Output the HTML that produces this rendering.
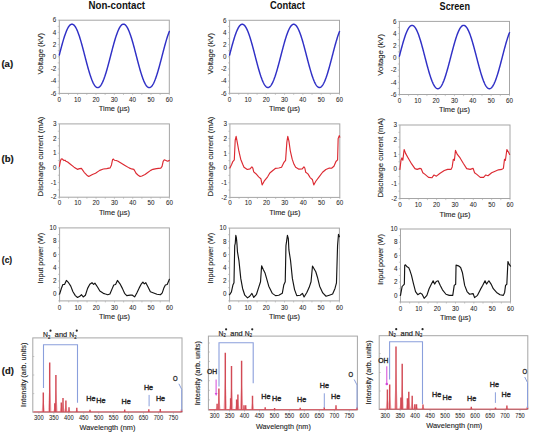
<!DOCTYPE html>
<html><head><meta charset="utf-8"><style>
html,body{margin:0;padding:0;background:#fff;}
body{width:533px;height:434px;overflow:hidden;font-family:"Liberation Sans", sans-serif;}
svg{display:block;}
</style></head><body>
<svg width="533" height="434" viewBox="0 0 533 434" font-family='"Liberation Sans", sans-serif'>
<rect width="533" height="434" fill="#fff"/>
<text x="116.8" y="9.4" font-size="10.2" text-anchor="middle" fill="#111" font-weight="bold" textLength="56.5" lengthAdjust="spacingAndGlyphs" >Non-contact</text>
<text x="287.4" y="9.1" font-size="10.0" text-anchor="middle" fill="#111" font-weight="bold" textLength="34.9" lengthAdjust="spacingAndGlyphs" >Contact</text>
<text x="454.8" y="9.8" font-size="10.0" text-anchor="middle" fill="#111" font-weight="bold" textLength="30.4" lengthAdjust="spacingAndGlyphs" >Screen</text>
<text x="1.4" y="66.9" font-size="9.5" text-anchor="start" fill="#111" stroke="#111" stroke-width="0.15" font-weight="bold" textLength="11.7" lengthAdjust="spacingAndGlyphs" >(a)</text>
<text x="1.6" y="161.85" font-size="9.5" text-anchor="start" fill="#111" stroke="#111" stroke-width="0.15" font-weight="bold" textLength="12.2" lengthAdjust="spacingAndGlyphs" >(b)</text>
<text x="1.8" y="263.4" font-size="9.5" text-anchor="start" fill="#111" stroke="#111" stroke-width="0.15" font-weight="bold" textLength="10.4" lengthAdjust="spacingAndGlyphs" >(c)</text>
<text x="1.8" y="373.6" font-size="9.5" text-anchor="start" fill="#111" stroke="#111" stroke-width="0.15" font-weight="bold" textLength="12" lengthAdjust="spacingAndGlyphs" >(d)</text>
<path d="M57.7 93.4h1.6 M57.7 87.3h1.6 M57.7 81.2h1.6 M57.7 75.1h1.6 M57.7 69h1.6 M57.7 62.9h1.6 M57.7 56.8h1.6 M57.7 50.7h1.6 M57.7 44.6h1.6 M57.7 38.5h1.6 M57.7 32.4h1.6 M57.7 26.3h1.6 M57.7 20.2h1.6 M59.3 93.4v1.6 M68.47 93.4v1.6 M77.63 93.4v1.6 M86.8 93.4v1.6 M95.97 93.4v1.6 M105.13 93.4v1.6 M114.3 93.4v1.6 M123.47 93.4v1.6 M132.63 93.4v1.6 M141.8 93.4v1.6 M150.97 93.4v1.6 M160.13 93.4v1.6 M169.3 93.4v1.6" stroke="#a6a6a6" stroke-width="0.6" fill="none"/>
<rect x="59.3" y="20.2" width="110" height="73.2" fill="none" stroke="#a6a6a6" stroke-width="1"/>
<polyline points="59.3,55 59.67,53.58 60.03,52.17 60.4,50.77 60.77,49.37 61.13,47.99 61.5,46.62 61.87,45.28 62.23,43.95 62.6,42.65 62.97,41.37 63.33,40.13 63.7,38.91 64.07,37.73 64.43,36.59 64.8,35.48 65.17,34.42 65.53,33.39 65.9,32.42 66.27,31.49 66.63,30.6 67,29.77 67.37,28.99 67.73,28.27 68.1,27.6 68.47,26.98 68.83,26.43 69.2,25.93 69.57,25.5 69.93,25.12 70.3,24.81 70.67,24.55 71.03,24.36 71.4,24.24 71.77,24.17 72.13,24.17 72.5,24.24 72.87,24.36 73.23,24.55 73.6,24.81 73.97,25.12 74.33,25.5 74.7,25.93 75.07,26.43 75.43,26.98 75.8,27.6 76.17,28.27 76.53,28.99 76.9,29.77 77.27,30.6 77.63,31.49 78,32.42 78.37,33.39 78.73,34.42 79.1,35.48 79.47,36.59 79.83,37.73 80.2,38.91 80.57,40.13 80.93,41.37 81.3,42.65 81.67,43.95 82.03,45.28 82.4,46.62 82.77,47.99 83.13,49.37 83.5,50.77 83.87,52.17 84.23,53.58 84.6,55 84.97,56.42 85.33,57.83 85.7,59.25 86.07,60.65 86.43,62.05 86.8,63.44 87.17,64.81 87.53,66.16 87.9,67.49 88.27,68.8 88.63,70.08 89,71.33 89.37,72.56 89.73,73.75 90.1,74.9 90.47,76.02 90.83,77.09 91.2,78.13 91.57,79.11 91.93,80.06 92.3,80.95 92.67,81.79 93.03,82.59 93.4,83.33 93.77,84.01 94.13,84.64 94.5,85.21 94.87,85.72 95.23,86.17 95.6,86.56 95.97,86.89 96.33,87.16 96.7,87.37 97.07,87.51 97.43,87.59 97.8,87.6 98.17,87.56 98.53,87.44 98.9,87.27 99.27,87.03 99.63,86.73 100,86.37 100.37,85.95 100.73,85.47 101.1,84.93 101.47,84.33 101.83,83.67 102.2,82.96 102.57,82.2 102.93,81.38 103.3,80.51 103.67,79.59 104.03,78.63 104.4,77.61 104.77,76.56 105.13,75.46 105.5,74.33 105.87,73.16 106.23,71.95 106.6,70.71 106.97,69.44 107.33,68.15 107.7,66.83 108.07,65.48 108.43,64.12 108.8,62.75 109.17,61.35 109.53,59.95 109.9,58.54 110.27,57.13 110.63,55.71 111,54.29 111.37,52.88 111.73,51.47 112.1,50.07 112.47,48.68 112.83,47.3 113.2,45.95 113.57,44.61 113.93,43.3 114.3,42.01 114.67,40.75 115.03,39.52 115.4,38.32 115.77,37.15 116.13,36.03 116.5,34.94 116.87,33.9 117.23,32.9 117.6,31.94 117.97,31.04 118.33,30.18 118.7,29.38 119.07,28.62 119.43,27.93 119.8,27.28 120.17,26.7 120.53,26.17 120.9,25.71 121.27,25.3 121.63,24.95 122,24.67 122.37,24.45 122.73,24.29 123.1,24.2 123.47,24.16 123.83,24.2 124.2,24.29 124.57,24.45 124.93,24.67 125.3,24.95 125.67,25.3 126.03,25.71 126.4,26.17 126.77,26.7 127.13,27.28 127.5,27.93 127.87,28.62 128.23,29.38 128.6,30.18 128.97,31.04 129.33,31.94 129.7,32.9 130.07,33.9 130.43,34.94 130.8,36.03 131.17,37.15 131.53,38.32 131.9,39.52 132.27,40.75 132.63,42.01 133,43.3 133.37,44.61 133.73,45.95 134.1,47.3 134.47,48.68 134.83,50.07 135.2,51.47 135.57,52.88 135.93,54.29 136.3,55.71 136.67,57.13 137.03,58.54 137.4,59.95 137.77,61.35 138.13,62.75 138.5,64.12 138.87,65.48 139.23,66.83 139.6,68.15 139.97,69.44 140.33,70.71 140.7,71.95 141.07,73.16 141.43,74.33 141.8,75.46 142.17,76.56 142.53,77.61 142.9,78.63 143.27,79.59 143.63,80.51 144,81.38 144.37,82.2 144.73,82.96 145.1,83.67 145.47,84.33 145.83,84.93 146.2,85.47 146.57,85.95 146.93,86.37 147.3,86.73 147.67,87.03 148.03,87.27 148.4,87.44 148.77,87.56 149.13,87.6 149.5,87.59 149.87,87.51 150.23,87.37 150.6,87.16 150.97,86.89 151.33,86.56 151.7,86.17 152.07,85.72 152.43,85.21 152.8,84.64 153.17,84.01 153.53,83.33 153.9,82.59 154.27,81.79 154.63,80.95 155,80.06 155.37,79.11 155.73,78.13 156.1,77.09 156.47,76.02 156.83,74.9 157.2,73.75 157.57,72.56 157.93,71.33 158.3,70.08 158.67,68.8 159.03,67.49 159.4,66.16 159.77,64.81 160.13,63.44 160.5,62.05 160.87,60.65 161.23,59.25 161.6,57.83 161.97,56.42 162.33,55 162.7,53.58 163.07,52.17 163.43,50.77 163.8,49.37 164.17,47.99 164.53,46.62 164.9,45.28 165.27,43.95 165.63,42.65 166,41.37 166.37,40.13 166.73,38.91 167.1,37.73 167.47,36.59 167.83,35.48 168.2,34.42 168.57,33.39 168.93,32.42 169.3,31.49" fill="none" stroke="#3030c6" stroke-width="1.45" stroke-linejoin="round" stroke-linecap="round"/>
<text x="56.3" y="22.4" font-size="6.3" text-anchor="end" fill="#262626" stroke="#262626" stroke-width="0.05" >6</text>
<text x="56.3" y="34.6" font-size="6.3" text-anchor="end" fill="#262626" stroke="#262626" stroke-width="0.05" >4</text>
<text x="56.3" y="46.8" font-size="6.3" text-anchor="end" fill="#262626" stroke="#262626" stroke-width="0.05" >2</text>
<text x="56.3" y="59" font-size="6.3" text-anchor="end" fill="#262626" stroke="#262626" stroke-width="0.05" >0</text>
<text x="56.3" y="71.2" font-size="6.3" text-anchor="end" fill="#262626" stroke="#262626" stroke-width="0.05" >-2</text>
<text x="56.3" y="83.4" font-size="6.3" text-anchor="end" fill="#262626" stroke="#262626" stroke-width="0.05" >-4</text>
<text x="56.3" y="95.6" font-size="6.3" text-anchor="end" fill="#262626" stroke="#262626" stroke-width="0.05" >-6</text>
<text x="59.3" y="101.9" font-size="6.3" text-anchor="middle" fill="#262626" stroke="#262626" stroke-width="0.05" >0</text>
<text x="77.63" y="101.9" font-size="6.3" text-anchor="middle" fill="#262626" stroke="#262626" stroke-width="0.05" >10</text>
<text x="95.97" y="101.9" font-size="6.3" text-anchor="middle" fill="#262626" stroke="#262626" stroke-width="0.05" >20</text>
<text x="114.3" y="101.9" font-size="6.3" text-anchor="middle" fill="#262626" stroke="#262626" stroke-width="0.05" >30</text>
<text x="132.63" y="101.9" font-size="6.3" text-anchor="middle" fill="#262626" stroke="#262626" stroke-width="0.05" >40</text>
<text x="150.97" y="101.9" font-size="6.3" text-anchor="middle" fill="#262626" stroke="#262626" stroke-width="0.05" >50</text>
<text x="169.3" y="101.9" font-size="6.3" text-anchor="middle" fill="#262626" stroke="#262626" stroke-width="0.05" >60</text>
<text x="114.3" y="111.2" font-size="7.4" text-anchor="middle" fill="#262626" stroke="#262626" stroke-width="0.12" textLength="31" lengthAdjust="spacingAndGlyphs" >Time (µs)</text>
<text x="42.9" y="53.7" font-size="7.0" text-anchor="middle" fill="#262626" stroke="#262626" stroke-width="0.12" textLength="41.7" lengthAdjust="spacingAndGlyphs" transform="rotate(-90 42.9 53.7)" >Voltage (kV)</text>
<path d="M228 93.3h1.6 M228 87.22h1.6 M228 81.13h1.6 M228 75.05h1.6 M228 68.97h1.6 M228 62.88h1.6 M228 56.8h1.6 M228 50.72h1.6 M228 44.63h1.6 M228 38.55h1.6 M228 32.47h1.6 M228 26.38h1.6 M228 20.3h1.6 M229.6 93.3v1.6 M238.76 93.3v1.6 M247.92 93.3v1.6 M257.07 93.3v1.6 M266.23 93.3v1.6 M275.39 93.3v1.6 M284.55 93.3v1.6 M293.71 93.3v1.6 M302.87 93.3v1.6 M312.02 93.3v1.6 M321.18 93.3v1.6 M330.34 93.3v1.6 M339.5 93.3v1.6" stroke="#a6a6a6" stroke-width="0.6" fill="none"/>
<rect x="229.6" y="20.3" width="109.9" height="73" fill="none" stroke="#a6a6a6" stroke-width="1"/>
<polyline points="229.6,55 229.97,53.59 230.33,52.18 230.7,50.78 231.07,49.39 231.43,48.01 231.8,46.65 232.16,45.31 232.53,43.99 232.9,42.69 233.26,41.42 233.63,40.17 234,38.96 234.36,37.78 234.73,36.64 235.09,35.54 235.46,34.48 235.83,33.46 236.19,32.48 236.56,31.55 236.93,30.67 237.29,29.85 237.66,29.07 238.03,28.35 238.39,27.68 238.76,27.07 239.12,26.51 239.49,26.02 239.86,25.58 240.22,25.21 240.59,24.89 240.96,24.64 241.32,24.45 241.69,24.33 242.06,24.26 242.42,24.26 242.79,24.33 243.15,24.45 243.52,24.64 243.89,24.89 244.25,25.21 244.62,25.58 244.99,26.02 245.35,26.51 245.72,27.07 246.08,27.68 246.45,28.35 246.82,29.07 247.18,29.85 247.55,30.67 247.92,31.55 248.28,32.48 248.65,33.46 249.02,34.48 249.38,35.54 249.75,36.64 250.11,37.78 250.48,38.96 250.85,40.17 251.21,41.42 251.58,42.69 251.95,43.99 252.31,45.31 252.68,46.65 253.05,48.01 253.41,49.39 253.78,50.78 254.14,52.18 254.51,53.59 254.88,55 255.24,56.42 255.61,57.83 255.98,59.24 256.34,60.64 256.71,62.04 257.07,63.42 257.44,64.78 257.81,66.13 258.17,67.46 258.54,68.76 258.91,70.04 259.27,71.29 259.64,72.51 260.01,73.7 260.37,74.85 260.74,75.96 261.1,77.04 261.47,78.07 261.84,79.05 262.2,79.99 262.57,80.88 262.94,81.73 263.3,82.52 263.67,83.25 264.04,83.94 264.4,84.56 264.77,85.13 265.13,85.64 265.5,86.09 265.87,86.48 266.23,86.81 266.6,87.08 266.97,87.28 267.33,87.42 267.7,87.5 268.06,87.52 268.43,87.47 268.8,87.36 269.16,87.19 269.53,86.95 269.9,86.65 270.26,86.29 270.63,85.87 271,85.39 271.36,84.85 271.73,84.26 272.09,83.6 272.46,82.89 272.83,82.13 273.19,81.31 273.56,80.45 273.93,79.53 274.29,78.57 274.66,77.56 275.03,76.51 275.39,75.41 275.76,74.28 276.12,73.11 276.49,71.91 276.86,70.67 277.22,69.41 277.59,68.12 277.96,66.8 278.32,65.46 278.69,64.1 279.06,62.73 279.42,61.34 279.79,59.94 280.15,58.54 280.52,57.13 280.89,55.71 281.25,54.3 281.62,52.89 281.99,51.48 282.35,50.09 282.72,48.7 283.08,47.33 283.45,45.98 283.82,44.64 284.18,43.33 284.55,42.05 284.92,40.79 285.28,39.56 285.65,38.37 286.02,37.21 286.38,36.09 286.75,35 287.11,33.96 287.48,32.96 287.85,32.01 288.21,31.11 288.58,30.25 288.95,29.45 289.31,28.7 289.68,28.01 290.05,27.36 290.41,26.78 290.78,26.26 291.14,25.79 291.51,25.39 291.88,25.04 292.24,24.76 292.61,24.54 292.98,24.38 293.34,24.29 293.71,24.25 294.07,24.29 294.44,24.38 294.81,24.54 295.17,24.76 295.54,25.04 295.91,25.39 296.27,25.79 296.64,26.26 297.01,26.78 297.37,27.36 297.74,28.01 298.1,28.7 298.47,29.45 298.84,30.25 299.2,31.11 299.57,32.01 299.94,32.96 300.3,33.96 300.67,35 301.03,36.09 301.4,37.21 301.77,38.37 302.13,39.56 302.5,40.79 302.87,42.05 303.23,43.33 303.6,44.64 303.97,45.98 304.33,47.33 304.7,48.7 305.06,50.09 305.43,51.48 305.8,52.89 306.16,54.3 306.53,55.71 306.9,57.13 307.26,58.54 307.63,59.94 308,61.34 308.36,62.73 308.73,64.1 309.09,65.46 309.46,66.8 309.83,68.12 310.19,69.41 310.56,70.67 310.93,71.91 311.29,73.11 311.66,74.28 312.02,75.41 312.39,76.51 312.76,77.56 313.12,78.57 313.49,79.53 313.86,80.45 314.22,81.31 314.59,82.13 314.96,82.89 315.32,83.6 315.69,84.26 316.05,84.85 316.42,85.39 316.79,85.87 317.15,86.29 317.52,86.65 317.89,86.95 318.25,87.19 318.62,87.36 318.99,87.47 319.35,87.52 319.72,87.5 320.08,87.42 320.45,87.28 320.82,87.08 321.18,86.81 321.55,86.48 321.92,86.09 322.28,85.64 322.65,85.13 323.01,84.56 323.38,83.94 323.75,83.25 324.11,82.52 324.48,81.73 324.85,80.88 325.21,79.99 325.58,79.05 325.95,78.07 326.31,77.04 326.68,75.96 327.04,74.85 327.41,73.7 327.78,72.51 328.14,71.29 328.51,70.04 328.88,68.76 329.24,67.46 329.61,66.13 329.98,64.78 330.34,63.42 330.71,62.04 331.07,60.64 331.44,59.24 331.81,57.83 332.17,56.42 332.54,55 332.91,53.59 333.27,52.18 333.64,50.78 334,49.39 334.37,48.01 334.74,46.65 335.1,45.31 335.47,43.99 335.84,42.69 336.2,41.42 336.57,40.17 336.94,38.96 337.3,37.78 337.67,36.64 338.03,35.54 338.4,34.48 338.77,33.46 339.13,32.48 339.5,31.55" fill="none" stroke="#3030c6" stroke-width="1.45" stroke-linejoin="round" stroke-linecap="round"/>
<text x="226.6" y="22.5" font-size="6.3" text-anchor="end" fill="#262626" stroke="#262626" stroke-width="0.05" >6</text>
<text x="226.6" y="34.67" font-size="6.3" text-anchor="end" fill="#262626" stroke="#262626" stroke-width="0.05" >4</text>
<text x="226.6" y="46.83" font-size="6.3" text-anchor="end" fill="#262626" stroke="#262626" stroke-width="0.05" >2</text>
<text x="226.6" y="59" font-size="6.3" text-anchor="end" fill="#262626" stroke="#262626" stroke-width="0.05" >0</text>
<text x="226.6" y="71.17" font-size="6.3" text-anchor="end" fill="#262626" stroke="#262626" stroke-width="0.05" >-2</text>
<text x="226.6" y="83.33" font-size="6.3" text-anchor="end" fill="#262626" stroke="#262626" stroke-width="0.05" >-4</text>
<text x="226.6" y="95.5" font-size="6.3" text-anchor="end" fill="#262626" stroke="#262626" stroke-width="0.05" >-6</text>
<text x="229.6" y="101.9" font-size="6.3" text-anchor="middle" fill="#262626" stroke="#262626" stroke-width="0.05" >0</text>
<text x="247.92" y="101.9" font-size="6.3" text-anchor="middle" fill="#262626" stroke="#262626" stroke-width="0.05" >10</text>
<text x="266.23" y="101.9" font-size="6.3" text-anchor="middle" fill="#262626" stroke="#262626" stroke-width="0.05" >20</text>
<text x="284.55" y="101.9" font-size="6.3" text-anchor="middle" fill="#262626" stroke="#262626" stroke-width="0.05" >30</text>
<text x="302.87" y="101.9" font-size="6.3" text-anchor="middle" fill="#262626" stroke="#262626" stroke-width="0.05" >40</text>
<text x="321.18" y="101.9" font-size="6.3" text-anchor="middle" fill="#262626" stroke="#262626" stroke-width="0.05" >50</text>
<text x="339.5" y="101.9" font-size="6.3" text-anchor="middle" fill="#262626" stroke="#262626" stroke-width="0.05" >60</text>
<text x="284.55" y="111.2" font-size="7.4" text-anchor="middle" fill="#262626" stroke="#262626" stroke-width="0.12" textLength="31" lengthAdjust="spacingAndGlyphs" >Time (µs)</text>
<text x="213.1" y="53.7" font-size="7.0" text-anchor="middle" fill="#262626" stroke="#262626" stroke-width="0.12" textLength="41.7" lengthAdjust="spacingAndGlyphs" transform="rotate(-90 213.1 53.7)" >Voltage (kV)</text>
<path d="M397.8 94.5h1.6 M397.8 88.41h1.6 M397.8 82.32h1.6 M397.8 76.22h1.6 M397.8 70.13h1.6 M397.8 64.04h1.6 M397.8 57.95h1.6 M397.8 51.86h1.6 M397.8 45.77h1.6 M397.8 39.68h1.6 M397.8 33.58h1.6 M397.8 27.49h1.6 M397.8 21.4h1.6 M399.4 94.5v1.6 M408.57 94.5v1.6 M417.75 94.5v1.6 M426.92 94.5v1.6 M436.1 94.5v1.6 M445.27 94.5v1.6 M454.45 94.5v1.6 M463.62 94.5v1.6 M472.8 94.5v1.6 M481.98 94.5v1.6 M491.15 94.5v1.6 M500.32 94.5v1.6 M509.5 94.5v1.6" stroke="#a6a6a6" stroke-width="0.6" fill="none"/>
<rect x="399.4" y="21.4" width="110.1" height="73.1" fill="none" stroke="#a6a6a6" stroke-width="1"/>
<polyline points="399.4,56.15 399.77,54.74 400.13,53.33 400.5,51.92 400.87,50.53 401.23,49.15 401.6,47.79 401.97,46.44 402.34,45.12 402.7,43.82 403.07,42.55 403.44,41.3 403.8,40.09 404.17,38.91 404.54,37.76 404.9,36.66 405.27,35.6 405.64,34.57 406.01,33.6 406.37,32.67 406.74,31.79 407.11,30.96 407.47,30.18 407.84,29.46 408.21,28.79 408.57,28.18 408.94,27.62 409.31,27.12 409.68,26.69 410.04,26.31 410.41,26 410.78,25.75 411.14,25.56 411.51,25.43 411.88,25.37 412.25,25.37 412.61,25.43 412.98,25.56 413.35,25.75 413.71,26 414.08,26.31 414.45,26.69 414.81,27.12 415.18,27.62 415.55,28.18 415.91,28.79 416.28,29.46 416.65,30.18 417.02,30.96 417.38,31.79 417.75,32.67 418.12,33.6 418.48,34.57 418.85,35.6 419.22,36.66 419.58,37.76 419.95,38.91 420.32,40.09 420.69,41.3 421.05,42.55 421.42,43.82 421.79,45.12 422.15,46.44 422.52,47.79 422.89,49.15 423.25,50.53 423.62,51.92 423.99,53.33 424.36,54.74 424.72,56.15 425.09,57.57 425.46,58.98 425.82,60.39 426.19,61.8 426.56,63.19 426.92,64.58 427.29,65.95 427.66,67.3 428.03,68.62 428.39,69.93 428.76,71.21 429.13,72.46 429.49,73.69 429.86,74.87 430.23,76.03 430.59,77.14 430.96,78.21 431.33,79.25 431.7,80.23 432.06,81.18 432.43,82.07 432.8,82.91 433.16,83.7 433.53,84.44 433.9,85.12 434.26,85.75 434.63,86.32 435,86.83 435.37,87.28 435.73,87.67 436.1,88 436.47,88.27 436.83,88.47 437.2,88.62 437.57,88.7 437.94,88.71 438.3,88.66 438.67,88.55 439.04,88.38 439.4,88.14 439.77,87.84 440.14,87.48 440.5,87.06 440.87,86.58 441.24,86.04 441.61,85.44 441.97,84.79 442.34,84.08 442.71,83.31 443.07,82.5 443.44,81.63 443.81,80.71 444.17,79.75 444.54,78.74 444.91,77.68 445.27,76.59 445.64,75.45 446.01,74.28 446.38,73.08 446.74,71.84 447.11,70.57 447.48,69.28 447.84,67.96 448.21,66.62 448.58,65.26 448.94,63.89 449.31,62.5 449.68,61.1 450.05,59.69 450.41,58.28 450.78,56.86 451.15,55.44 451.51,54.03 451.88,52.62 452.25,51.23 452.62,49.84 452.98,48.47 453.35,47.11 453.72,45.78 454.08,44.47 454.45,43.18 454.82,41.92 455.18,40.69 455.55,39.49 455.92,38.33 456.28,37.21 456.65,36.12 457.02,35.08 457.39,34.08 457.75,33.13 458.12,32.22 458.49,31.37 458.85,30.56 459.22,29.81 459.59,29.12 459.95,28.47 460.32,27.89 460.69,27.37 461.06,26.9 461.42,26.49 461.79,26.15 462.16,25.87 462.52,25.64 462.89,25.49 463.26,25.39 463.62,25.36 463.99,25.39 464.36,25.49 464.73,25.64 465.09,25.87 465.46,26.15 465.83,26.49 466.19,26.9 466.56,27.37 466.93,27.89 467.29,28.47 467.66,29.12 468.03,29.81 468.4,30.56 468.76,31.37 469.13,32.22 469.5,33.13 469.86,34.08 470.23,35.08 470.6,36.12 470.96,37.21 471.33,38.33 471.7,39.49 472.07,40.69 472.43,41.92 472.8,43.18 473.17,44.47 473.53,45.78 473.9,47.11 474.27,48.47 474.63,49.84 475,51.23 475.37,52.62 475.74,54.03 476.1,55.44 476.47,56.86 476.84,58.28 477.2,59.69 477.57,61.1 477.94,62.5 478.31,63.89 478.67,65.26 479.04,66.62 479.41,67.96 479.77,69.28 480.14,70.57 480.51,71.84 480.87,73.08 481.24,74.28 481.61,75.45 481.98,76.59 482.34,77.68 482.71,78.74 483.08,79.75 483.44,80.71 483.81,81.63 484.18,82.5 484.54,83.31 484.91,84.08 485.28,84.79 485.64,85.44 486.01,86.04 486.38,86.58 486.75,87.06 487.11,87.48 487.48,87.84 487.85,88.14 488.21,88.38 488.58,88.55 488.95,88.66 489.31,88.71 489.68,88.7 490.05,88.62 490.42,88.47 490.78,88.27 491.15,88 491.52,87.67 491.88,87.28 492.25,86.83 492.62,86.32 492.99,85.75 493.35,85.12 493.72,84.44 494.09,83.7 494.45,82.91 494.82,82.07 495.19,81.18 495.55,80.23 495.92,79.25 496.29,78.21 496.65,77.14 497.02,76.03 497.39,74.87 497.76,73.69 498.12,72.46 498.49,71.21 498.86,69.93 499.22,68.62 499.59,67.3 499.96,65.95 500.32,64.58 500.69,63.19 501.06,61.8 501.43,60.39 501.79,58.98 502.16,57.57 502.53,56.15 502.89,54.74 503.26,53.33 503.63,51.92 504,50.53 504.36,49.15 504.73,47.79 505.1,46.44 505.46,45.12 505.83,43.82 506.2,42.55 506.56,41.3 506.93,40.09 507.3,38.91 507.66,37.76 508.03,36.66 508.4,35.6 508.77,34.57 509.13,33.6 509.5,32.67" fill="none" stroke="#3030c6" stroke-width="1.45" stroke-linejoin="round" stroke-linecap="round"/>
<text x="396.4" y="23.6" font-size="6.3" text-anchor="end" fill="#262626" stroke="#262626" stroke-width="0.05" >6</text>
<text x="396.4" y="35.78" font-size="6.3" text-anchor="end" fill="#262626" stroke="#262626" stroke-width="0.05" >4</text>
<text x="396.4" y="47.97" font-size="6.3" text-anchor="end" fill="#262626" stroke="#262626" stroke-width="0.05" >2</text>
<text x="396.4" y="60.15" font-size="6.3" text-anchor="end" fill="#262626" stroke="#262626" stroke-width="0.05" >0</text>
<text x="396.4" y="72.33" font-size="6.3" text-anchor="end" fill="#262626" stroke="#262626" stroke-width="0.05" >-2</text>
<text x="396.4" y="84.52" font-size="6.3" text-anchor="end" fill="#262626" stroke="#262626" stroke-width="0.05" >-4</text>
<text x="396.4" y="96.7" font-size="6.3" text-anchor="end" fill="#262626" stroke="#262626" stroke-width="0.05" >-6</text>
<text x="399.4" y="103.1" font-size="6.3" text-anchor="middle" fill="#262626" stroke="#262626" stroke-width="0.05" >0</text>
<text x="417.75" y="103.1" font-size="6.3" text-anchor="middle" fill="#262626" stroke="#262626" stroke-width="0.05" >10</text>
<text x="436.1" y="103.1" font-size="6.3" text-anchor="middle" fill="#262626" stroke="#262626" stroke-width="0.05" >20</text>
<text x="454.45" y="103.1" font-size="6.3" text-anchor="middle" fill="#262626" stroke="#262626" stroke-width="0.05" >30</text>
<text x="472.8" y="103.1" font-size="6.3" text-anchor="middle" fill="#262626" stroke="#262626" stroke-width="0.05" >40</text>
<text x="491.15" y="103.1" font-size="6.3" text-anchor="middle" fill="#262626" stroke="#262626" stroke-width="0.05" >50</text>
<text x="509.5" y="103.1" font-size="6.3" text-anchor="middle" fill="#262626" stroke="#262626" stroke-width="0.05" >60</text>
<text x="454.45" y="112.4" font-size="7.4" text-anchor="middle" fill="#262626" stroke="#262626" stroke-width="0.12" textLength="31" lengthAdjust="spacingAndGlyphs" >Time (µs)</text>
<text x="383.1" y="54.9" font-size="7.0" text-anchor="middle" fill="#262626" stroke="#262626" stroke-width="0.12" textLength="41.7" lengthAdjust="spacingAndGlyphs" transform="rotate(-90 383.1 54.9)" >Voltage (kV)</text>
<path d="M57.8 197.2h1.6 M57.8 189.87h1.6 M57.8 182.54h1.6 M57.8 175.21h1.6 M57.8 167.88h1.6 M57.8 160.55h1.6 M57.8 153.22h1.6 M57.8 145.89h1.6 M57.8 138.56h1.6 M57.8 131.23h1.6 M57.8 123.9h1.6 M59.4 197.2v1.6 M68.57 197.2v1.6 M77.73 197.2v1.6 M86.9 197.2v1.6 M96.07 197.2v1.6 M105.23 197.2v1.6 M114.4 197.2v1.6 M123.57 197.2v1.6 M132.73 197.2v1.6 M141.9 197.2v1.6 M151.07 197.2v1.6 M160.23 197.2v1.6 M169.4 197.2v1.6" stroke="#a6a6a6" stroke-width="0.6" fill="none"/>
<rect x="59.4" y="123.9" width="110" height="73.3" fill="none" stroke="#a6a6a6" stroke-width="1"/>
<polyline points="59.4,166.41 60.32,161.28 61.23,159.08 62.15,158.79 63.07,159.82 63.98,160.55 65.08,160.26 66,161.28 67.65,162.02 70.4,164.22 74.07,167.15 77.37,169.35 79.57,168.61 81.4,168.32 82.68,170.08 84.15,172.28 86.9,175.21 88.73,176.53 90.57,175.5 92.4,174.48 95.52,173.3 99.73,170.37 103.4,169.05 106.7,168.61 110.18,167.88 111.47,164.95 112.57,159.52 113.48,159.08 114.4,160.26 116.23,160.55 118.07,161.28 121.73,163.48 125.4,165.68 129.07,167.88 131.63,168.91 133.83,169.35 135.12,171.54 136.03,173.3 138.23,175.21 140.07,176.53 141.9,175.94 145.02,174.48 147.4,172.72 150.7,170.37 152.9,169.35 156.38,168.61 160.78,168.17 162.07,166.41 163.17,161.28 164.27,159.82 165.37,160.26 166.65,160.84 167.93,161.28 169.4,160.26" fill="none" stroke="#dc2a32" stroke-width="1.15" stroke-linejoin="round" stroke-linecap="round"/>
<text x="56.4" y="126.1" font-size="6.3" text-anchor="end" fill="#262626" stroke="#262626" stroke-width="0.05" >3</text>
<text x="56.4" y="140.76" font-size="6.3" text-anchor="end" fill="#262626" stroke="#262626" stroke-width="0.05" >2</text>
<text x="56.4" y="155.42" font-size="6.3" text-anchor="end" fill="#262626" stroke="#262626" stroke-width="0.05" >1</text>
<text x="56.4" y="170.08" font-size="6.3" text-anchor="end" fill="#262626" stroke="#262626" stroke-width="0.05" >0</text>
<text x="56.4" y="184.74" font-size="6.3" text-anchor="end" fill="#262626" stroke="#262626" stroke-width="0.05" >-1</text>
<text x="56.4" y="199.4" font-size="6.3" text-anchor="end" fill="#262626" stroke="#262626" stroke-width="0.05" >-2</text>
<text x="59.4" y="205.3" font-size="6.3" text-anchor="middle" fill="#262626" stroke="#262626" stroke-width="0.05" >0</text>
<text x="77.73" y="205.3" font-size="6.3" text-anchor="middle" fill="#262626" stroke="#262626" stroke-width="0.05" >10</text>
<text x="96.07" y="205.3" font-size="6.3" text-anchor="middle" fill="#262626" stroke="#262626" stroke-width="0.05" >20</text>
<text x="114.4" y="205.3" font-size="6.3" text-anchor="middle" fill="#262626" stroke="#262626" stroke-width="0.05" >30</text>
<text x="132.73" y="205.3" font-size="6.3" text-anchor="middle" fill="#262626" stroke="#262626" stroke-width="0.05" >40</text>
<text x="151.07" y="205.3" font-size="6.3" text-anchor="middle" fill="#262626" stroke="#262626" stroke-width="0.05" >50</text>
<text x="169.4" y="205.3" font-size="6.3" text-anchor="middle" fill="#262626" stroke="#262626" stroke-width="0.05" >60</text>
<text x="114.4" y="215.3" font-size="7.4" text-anchor="middle" fill="#262626" stroke="#262626" stroke-width="0.12" textLength="31" lengthAdjust="spacingAndGlyphs" >Time (µs)</text>
<text x="42.9" y="156.5" font-size="7.0" text-anchor="middle" fill="#262626" stroke="#262626" stroke-width="0.12" textLength="79.8" lengthAdjust="spacingAndGlyphs" transform="rotate(-90 42.9 156.5)" >Discharge current (mA)</text>
<path d="M228.3 197.4h1.6 M228.3 190.05h1.6 M228.3 182.7h1.6 M228.3 175.35h1.6 M228.3 168h1.6 M228.3 160.65h1.6 M228.3 153.3h1.6 M228.3 145.95h1.6 M228.3 138.6h1.6 M228.3 131.25h1.6 M228.3 123.9h1.6 M229.9 197.4v1.6 M239.06 197.4v1.6 M248.22 197.4v1.6 M257.38 197.4v1.6 M266.53 197.4v1.6 M275.69 197.4v1.6 M284.85 197.4v1.6 M294.01 197.4v1.6 M303.17 197.4v1.6 M312.33 197.4v1.6 M321.48 197.4v1.6 M330.64 197.4v1.6 M339.8 197.4v1.6" stroke="#a6a6a6" stroke-width="0.6" fill="none"/>
<rect x="229.9" y="123.9" width="109.9" height="73.5" fill="none" stroke="#a6a6a6" stroke-width="1"/>
<polyline points="229.9,168 231.73,164.32 232.83,161.53 234.3,159.92 235.21,140.07 236.13,136.4 237.23,142.13 238.88,151.24 240.71,159.18 242.72,164.32 244,167.27 247.3,169.47 250.05,168.88 251.88,166.82 252.8,168 253.71,171.82 255.91,173.73 258.66,176.82 260.86,178.73 262.14,184.91 264.15,181.23 267.63,176.82 269.83,173 273.13,170.21 275.33,168.44 278.81,168 281.55,167.27 283.75,162.71 285.58,160.36 286.86,142.13 287.78,136.4 288.88,140.95 290.35,151.24 292.18,159.18 294.01,164.32 295.66,167.27 298.95,169.18 302.25,168.88 303.9,166.82 304.82,168 305.73,172.26 307.93,173.88 310.13,177.56 312.33,179.47 313.79,184.91 315.81,181.23 319.1,176.82 322.58,172.26 325.88,169.47 329.36,168 331.56,168.29 333.94,166.24 335.95,161.53 337.6,159.92 338.15,138.6 339.25,135.66 339.8,137.13" fill="none" stroke="#dc2a32" stroke-width="1.15" stroke-linejoin="round" stroke-linecap="round"/>
<text x="226.9" y="126.1" font-size="6.3" text-anchor="end" fill="#262626" stroke="#262626" stroke-width="0.05" >3</text>
<text x="226.9" y="140.8" font-size="6.3" text-anchor="end" fill="#262626" stroke="#262626" stroke-width="0.05" >2</text>
<text x="226.9" y="155.5" font-size="6.3" text-anchor="end" fill="#262626" stroke="#262626" stroke-width="0.05" >1</text>
<text x="226.9" y="170.2" font-size="6.3" text-anchor="end" fill="#262626" stroke="#262626" stroke-width="0.05" >0</text>
<text x="226.9" y="184.9" font-size="6.3" text-anchor="end" fill="#262626" stroke="#262626" stroke-width="0.05" >-1</text>
<text x="226.9" y="199.6" font-size="6.3" text-anchor="end" fill="#262626" stroke="#262626" stroke-width="0.05" >-2</text>
<text x="229.9" y="205.3" font-size="6.3" text-anchor="middle" fill="#262626" stroke="#262626" stroke-width="0.05" >0</text>
<text x="248.22" y="205.3" font-size="6.3" text-anchor="middle" fill="#262626" stroke="#262626" stroke-width="0.05" >10</text>
<text x="266.53" y="205.3" font-size="6.3" text-anchor="middle" fill="#262626" stroke="#262626" stroke-width="0.05" >20</text>
<text x="284.85" y="205.3" font-size="6.3" text-anchor="middle" fill="#262626" stroke="#262626" stroke-width="0.05" >30</text>
<text x="303.17" y="205.3" font-size="6.3" text-anchor="middle" fill="#262626" stroke="#262626" stroke-width="0.05" >40</text>
<text x="321.48" y="205.3" font-size="6.3" text-anchor="middle" fill="#262626" stroke="#262626" stroke-width="0.05" >50</text>
<text x="339.8" y="205.3" font-size="6.3" text-anchor="middle" fill="#262626" stroke="#262626" stroke-width="0.05" >60</text>
<text x="284.85" y="215.3" font-size="7.4" text-anchor="middle" fill="#262626" stroke="#262626" stroke-width="0.12" textLength="31" lengthAdjust="spacingAndGlyphs" >Time (µs)</text>
<text x="213.1" y="156.5" font-size="7.0" text-anchor="middle" fill="#262626" stroke="#262626" stroke-width="0.12" textLength="79.8" lengthAdjust="spacingAndGlyphs" transform="rotate(-90 213.1 156.5)" >Discharge current (mA)</text>
<path d="M398.3 198.5h1.6 M398.3 191.15h1.6 M398.3 183.8h1.6 M398.3 176.45h1.6 M398.3 169.1h1.6 M398.3 161.75h1.6 M398.3 154.4h1.6 M398.3 147.05h1.6 M398.3 139.7h1.6 M398.3 132.35h1.6 M398.3 125h1.6 M399.9 198.5v1.6 M409.07 198.5v1.6 M418.25 198.5v1.6 M427.42 198.5v1.6 M436.6 198.5v1.6 M445.77 198.5v1.6 M454.95 198.5v1.6 M464.12 198.5v1.6 M473.3 198.5v1.6 M482.48 198.5v1.6 M491.65 198.5v1.6 M500.82 198.5v1.6 M510 198.5v1.6" stroke="#a6a6a6" stroke-width="0.6" fill="none"/>
<rect x="399.9" y="125" width="110.1" height="73.5" fill="none" stroke="#a6a6a6" stroke-width="1"/>
<polyline points="399.9,169.39 401,160.28 401.92,157.93 402.84,160.28 404.12,149.55 405.59,153.37 408.16,157.93 411.64,163.95 414.95,168.66 417.15,169.39 419.9,168.37 421.19,168.81 422.84,172.78 425.04,174.39 428.53,177.33 431.83,177.77 434.03,174.98 436.42,176.16 439.72,173.51 444.31,170.57 447.61,169.39 451.1,169.39 452.2,166.9 453.3,159.25 454.4,160.28 455.5,150.43 457.34,154.4 460.09,157.93 463.39,163.51 466.69,168.66 470.18,169.39 473.12,168.37 474.58,172.78 476.79,174.39 480.27,177.33 483.58,177.33 485.78,174.98 487.98,175.72 491.65,172.78 495.14,171.16 498.44,169.84 501.93,169.39 503.39,168.37 504.5,159.25 505.41,160.28 506.88,149.55 508.53,152.19 509.63,154.4" fill="none" stroke="#dc2a32" stroke-width="1.15" stroke-linejoin="round" stroke-linecap="round"/>
<text x="396.9" y="127.2" font-size="6.3" text-anchor="end" fill="#262626" stroke="#262626" stroke-width="0.05" >3</text>
<text x="396.9" y="141.9" font-size="6.3" text-anchor="end" fill="#262626" stroke="#262626" stroke-width="0.05" >2</text>
<text x="396.9" y="156.6" font-size="6.3" text-anchor="end" fill="#262626" stroke="#262626" stroke-width="0.05" >1</text>
<text x="396.9" y="171.3" font-size="6.3" text-anchor="end" fill="#262626" stroke="#262626" stroke-width="0.05" >0</text>
<text x="396.9" y="186" font-size="6.3" text-anchor="end" fill="#262626" stroke="#262626" stroke-width="0.05" >-1</text>
<text x="396.9" y="200.7" font-size="6.3" text-anchor="end" fill="#262626" stroke="#262626" stroke-width="0.05" >-2</text>
<text x="399.9" y="206.5" font-size="6.3" text-anchor="middle" fill="#262626" stroke="#262626" stroke-width="0.05" >0</text>
<text x="418.25" y="206.5" font-size="6.3" text-anchor="middle" fill="#262626" stroke="#262626" stroke-width="0.05" >10</text>
<text x="436.6" y="206.5" font-size="6.3" text-anchor="middle" fill="#262626" stroke="#262626" stroke-width="0.05" >20</text>
<text x="454.95" y="206.5" font-size="6.3" text-anchor="middle" fill="#262626" stroke="#262626" stroke-width="0.05" >30</text>
<text x="473.3" y="206.5" font-size="6.3" text-anchor="middle" fill="#262626" stroke="#262626" stroke-width="0.05" >40</text>
<text x="491.65" y="206.5" font-size="6.3" text-anchor="middle" fill="#262626" stroke="#262626" stroke-width="0.05" >50</text>
<text x="510" y="206.5" font-size="6.3" text-anchor="middle" fill="#262626" stroke="#262626" stroke-width="0.05" >60</text>
<text x="454.95" y="216.5" font-size="7.4" text-anchor="middle" fill="#262626" stroke="#262626" stroke-width="0.12" textLength="31" lengthAdjust="spacingAndGlyphs" >Time (µs)</text>
<text x="383.1" y="157.7" font-size="7.0" text-anchor="middle" fill="#262626" stroke="#262626" stroke-width="0.12" textLength="79.8" lengthAdjust="spacingAndGlyphs" transform="rotate(-90 383.1 157.7)" >Discharge current (mA)</text>
<path d="M58 300.9h1.6 M58 294.26h1.6 M58 287.63h1.6 M58 280.99h1.6 M58 274.35h1.6 M58 267.72h1.6 M58 261.08h1.6 M58 254.45h1.6 M58 247.81h1.6 M58 241.17h1.6 M58 234.54h1.6 M58 227.9h1.6 M59.6 300.9v1.6 M68.75 300.9v1.6 M77.9 300.9v1.6 M87.05 300.9v1.6 M96.2 300.9v1.6 M105.35 300.9v1.6 M114.5 300.9v1.6 M123.65 300.9v1.6 M132.8 300.9v1.6 M141.95 300.9v1.6 M151.1 300.9v1.6 M160.25 300.9v1.6 M169.4 300.9v1.6" stroke="#a6a6a6" stroke-width="0.6" fill="none"/>
<rect x="59.6" y="227.9" width="109.8" height="73" fill="none" stroke="#a6a6a6" stroke-width="1"/>
<polyline points="59.6,294.06 61.43,288.29 62.89,284.51 64.54,284.51 66.37,280.46 68.57,282.72 70.76,286.1 72.96,291.74 75.34,295.59 77.53,297.45 79.73,296.25 81.56,294.73 83.21,296.92 85.4,295.26 87.6,288.36 89.8,284.31 91.99,282.72 93.64,284.31 94.92,283.18 97.66,287.23 99.86,291.08 103.34,293.33 105.53,294.06 107.73,294.73 109.93,294.06 112.3,288.36 113.77,284.97 115.6,284.51 117.43,280.46 119.99,283.84 122.37,288.36 124.56,293.33 126.76,295.59 130.24,295.19 132.43,295.19 134.63,296.92 136.83,292.94 139.21,287.89 141.4,283.84 142.87,282.05 144.33,283.84 145.79,282.72 148.17,287.23 150.37,291.74 153.66,292.94 156.96,294.26 160.43,294.73 162.26,292.94 163.73,288.36 165.37,284.97 167.2,284.51 169.4,279.33" fill="none" stroke="#141414" stroke-width="1.15" stroke-linejoin="round" stroke-linecap="round"/>
<text x="56.6" y="230.1" font-size="6.3" text-anchor="end" fill="#262626" stroke="#262626" stroke-width="0.05" >10</text>
<text x="56.6" y="243.37" font-size="6.3" text-anchor="end" fill="#262626" stroke="#262626" stroke-width="0.05" >8</text>
<text x="56.6" y="256.65" font-size="6.3" text-anchor="end" fill="#262626" stroke="#262626" stroke-width="0.05" >6</text>
<text x="56.6" y="269.92" font-size="6.3" text-anchor="end" fill="#262626" stroke="#262626" stroke-width="0.05" >4</text>
<text x="56.6" y="283.19" font-size="6.3" text-anchor="end" fill="#262626" stroke="#262626" stroke-width="0.05" >2</text>
<text x="56.6" y="296.46" font-size="6.3" text-anchor="end" fill="#262626" stroke="#262626" stroke-width="0.05" >0</text>
<text x="59.6" y="309.5" font-size="6.3" text-anchor="middle" fill="#262626" stroke="#262626" stroke-width="0.05" >0</text>
<text x="77.9" y="309.5" font-size="6.3" text-anchor="middle" fill="#262626" stroke="#262626" stroke-width="0.05" >10</text>
<text x="96.2" y="309.5" font-size="6.3" text-anchor="middle" fill="#262626" stroke="#262626" stroke-width="0.05" >20</text>
<text x="114.5" y="309.5" font-size="6.3" text-anchor="middle" fill="#262626" stroke="#262626" stroke-width="0.05" >30</text>
<text x="132.8" y="309.5" font-size="6.3" text-anchor="middle" fill="#262626" stroke="#262626" stroke-width="0.05" >40</text>
<text x="151.1" y="309.5" font-size="6.3" text-anchor="middle" fill="#262626" stroke="#262626" stroke-width="0.05" >50</text>
<text x="169.4" y="309.5" font-size="6.3" text-anchor="middle" fill="#262626" stroke="#262626" stroke-width="0.05" >60</text>
<text x="114.5" y="318.7" font-size="7.4" text-anchor="middle" fill="#262626" stroke="#262626" stroke-width="0.12" textLength="31" lengthAdjust="spacingAndGlyphs" >Time (µs)</text>
<text x="42.9" y="258.2" font-size="7.0" text-anchor="middle" fill="#262626" stroke="#262626" stroke-width="0.12" textLength="50.6" lengthAdjust="spacingAndGlyphs" transform="rotate(-90 42.9 258.2)" >Input power (W)</text>
<path d="M228 300.9h1.6 M228 294.28h1.6 M228 287.66h1.6 M228 281.05h1.6 M228 274.43h1.6 M228 267.81h1.6 M228 261.19h1.6 M228 254.57h1.6 M228 247.95h1.6 M228 241.34h1.6 M228 234.72h1.6 M228 228.1h1.6 M229.6 300.9v1.6 M238.75 300.9v1.6 M247.9 300.9v1.6 M257.05 300.9v1.6 M266.2 300.9v1.6 M275.35 300.9v1.6 M284.5 300.9v1.6 M293.65 300.9v1.6 M302.8 300.9v1.6 M311.95 300.9v1.6 M321.1 300.9v1.6 M330.25 300.9v1.6 M339.4 300.9v1.6" stroke="#a6a6a6" stroke-width="0.6" fill="none"/>
<rect x="229.6" y="228.1" width="109.8" height="72.8" fill="none" stroke="#a6a6a6" stroke-width="1"/>
<polyline points="229.6,294.75 231.43,291.83 232.89,285.08 233.99,282.83 234.72,245.64 235.27,243.32 235.82,235.38 236.37,237.63 236.92,243.32 237.47,251.93 238.93,260.53 240.76,278.4 242.59,288.46 244.79,295.21 247.53,297.86 249.73,296.27 251.93,293.36 253.76,297.46 256.5,294.28 258.7,287.33 260.53,281.71 261.62,265.82 263.27,269.46 264.92,272.64 266.57,278.4 268.76,286.21 272.24,293.36 275.53,295.61 278.83,295.21 282.3,293.36 283.77,285.08 285.23,281.71 285.96,245.64 287.43,235.38 288.34,238.69 288.89,249.94 290.54,260.53 292.37,278.4 294.56,289.58 296.76,295.61 300.24,295.21 302.43,293.36 304.08,296.93 306.83,292.49 309.2,287.33 311.03,281.71 312.5,265.96 314.33,269.27 315.79,271.78 317.44,277.21 319.64,286.21 322.75,292.96 326.04,296.27 329.33,295.21 332.63,294.08 335.01,288.46 336.47,282.83 337.57,245.64 338.49,234.39 339.4,236.7" fill="none" stroke="#141414" stroke-width="1.15" stroke-linejoin="round" stroke-linecap="round"/>
<text x="226.6" y="230.3" font-size="6.3" text-anchor="end" fill="#262626" stroke="#262626" stroke-width="0.05" >10</text>
<text x="226.6" y="243.54" font-size="6.3" text-anchor="end" fill="#262626" stroke="#262626" stroke-width="0.05" >8</text>
<text x="226.6" y="256.77" font-size="6.3" text-anchor="end" fill="#262626" stroke="#262626" stroke-width="0.05" >6</text>
<text x="226.6" y="270.01" font-size="6.3" text-anchor="end" fill="#262626" stroke="#262626" stroke-width="0.05" >4</text>
<text x="226.6" y="283.25" font-size="6.3" text-anchor="end" fill="#262626" stroke="#262626" stroke-width="0.05" >2</text>
<text x="226.6" y="296.48" font-size="6.3" text-anchor="end" fill="#262626" stroke="#262626" stroke-width="0.05" >0</text>
<text x="229.6" y="309.5" font-size="6.3" text-anchor="middle" fill="#262626" stroke="#262626" stroke-width="0.05" >0</text>
<text x="247.9" y="309.5" font-size="6.3" text-anchor="middle" fill="#262626" stroke="#262626" stroke-width="0.05" >10</text>
<text x="266.2" y="309.5" font-size="6.3" text-anchor="middle" fill="#262626" stroke="#262626" stroke-width="0.05" >20</text>
<text x="284.5" y="309.5" font-size="6.3" text-anchor="middle" fill="#262626" stroke="#262626" stroke-width="0.05" >30</text>
<text x="302.8" y="309.5" font-size="6.3" text-anchor="middle" fill="#262626" stroke="#262626" stroke-width="0.05" >40</text>
<text x="321.1" y="309.5" font-size="6.3" text-anchor="middle" fill="#262626" stroke="#262626" stroke-width="0.05" >50</text>
<text x="339.4" y="309.5" font-size="6.3" text-anchor="middle" fill="#262626" stroke="#262626" stroke-width="0.05" >60</text>
<text x="284.5" y="318.7" font-size="7.4" text-anchor="middle" fill="#262626" stroke="#262626" stroke-width="0.12" textLength="31" lengthAdjust="spacingAndGlyphs" >Time (µs)</text>
<text x="213.1" y="258.2" font-size="7.0" text-anchor="middle" fill="#262626" stroke="#262626" stroke-width="0.12" textLength="50.6" lengthAdjust="spacingAndGlyphs" transform="rotate(-90 213.1 258.2)" >Input power (W)</text>
<path d="M398.9 302h1.6 M398.9 295.36h1.6 M398.9 288.73h1.6 M398.9 282.09h1.6 M398.9 275.45h1.6 M398.9 268.82h1.6 M398.9 262.18h1.6 M398.9 255.55h1.6 M398.9 248.91h1.6 M398.9 242.27h1.6 M398.9 235.64h1.6 M398.9 229h1.6 M400.5 302v1.6 M409.67 302v1.6 M418.83 302v1.6 M428 302v1.6 M437.17 302v1.6 M446.33 302v1.6 M455.5 302v1.6 M464.67 302v1.6 M473.83 302v1.6 M483 302v1.6 M492.17 302v1.6 M501.33 302v1.6 M510.5 302v1.6" stroke="#a6a6a6" stroke-width="0.6" fill="none"/>
<rect x="400.5" y="229" width="110" height="73" fill="none" stroke="#a6a6a6" stroke-width="1"/>
<polyline points="400.5,295.36 402.15,286.4 403.25,285.41 404.35,284.21 404.72,265.17 405.45,264.84 407.1,266.83 408.75,267.82 410.03,270.81 411.5,275.45 413.33,283.09 415.53,291.58 417.73,294.7 420.48,293.11 422.13,294.24 424.15,298.28 426.9,295.36 429.1,288.73 431.3,284.21 433.13,280.76 434.6,284.08 436.25,281.43 438.08,280.76 440.28,285.41 442.48,289.79 445.97,294.24 449.27,295.36 452.75,295.36 454.22,285.41 455.68,284.21 456.05,265.17 458.43,265.83 460.63,267.49 462.47,272.8 464.67,285.41 467.05,291.58 469.62,294.24 473.1,293.57 474.57,297.62 477.5,295.36 480.43,289.39 482.63,285.41 485.02,280.76 486.48,284.08 488.87,280.76 491.07,284.08 493.27,288.73 496.57,292.44 500.05,294.7 503.35,295.36 504.63,292.44 505.55,285.41 506.83,284.21 507.93,261.52 509.03,264.17 510.5,266.16" fill="none" stroke="#141414" stroke-width="1.15" stroke-linejoin="round" stroke-linecap="round"/>
<text x="397.5" y="231.2" font-size="6.3" text-anchor="end" fill="#262626" stroke="#262626" stroke-width="0.05" >10</text>
<text x="397.5" y="244.47" font-size="6.3" text-anchor="end" fill="#262626" stroke="#262626" stroke-width="0.05" >8</text>
<text x="397.5" y="257.75" font-size="6.3" text-anchor="end" fill="#262626" stroke="#262626" stroke-width="0.05" >6</text>
<text x="397.5" y="271.02" font-size="6.3" text-anchor="end" fill="#262626" stroke="#262626" stroke-width="0.05" >4</text>
<text x="397.5" y="284.29" font-size="6.3" text-anchor="end" fill="#262626" stroke="#262626" stroke-width="0.05" >2</text>
<text x="397.5" y="297.56" font-size="6.3" text-anchor="end" fill="#262626" stroke="#262626" stroke-width="0.05" >0</text>
<text x="400.5" y="310.7" font-size="6.3" text-anchor="middle" fill="#262626" stroke="#262626" stroke-width="0.05" >0</text>
<text x="418.83" y="310.7" font-size="6.3" text-anchor="middle" fill="#262626" stroke="#262626" stroke-width="0.05" >10</text>
<text x="437.17" y="310.7" font-size="6.3" text-anchor="middle" fill="#262626" stroke="#262626" stroke-width="0.05" >20</text>
<text x="455.5" y="310.7" font-size="6.3" text-anchor="middle" fill="#262626" stroke="#262626" stroke-width="0.05" >30</text>
<text x="473.83" y="310.7" font-size="6.3" text-anchor="middle" fill="#262626" stroke="#262626" stroke-width="0.05" >40</text>
<text x="492.17" y="310.7" font-size="6.3" text-anchor="middle" fill="#262626" stroke="#262626" stroke-width="0.05" >50</text>
<text x="510.5" y="310.7" font-size="6.3" text-anchor="middle" fill="#262626" stroke="#262626" stroke-width="0.05" >60</text>
<text x="455.5" y="319.9" font-size="7.4" text-anchor="middle" fill="#262626" stroke="#262626" stroke-width="0.12" textLength="31" lengthAdjust="spacingAndGlyphs" >Time (µs)</text>
<text x="383.1" y="259.4" font-size="7.0" text-anchor="middle" fill="#262626" stroke="#262626" stroke-width="0.12" textLength="50.6" lengthAdjust="spacingAndGlyphs" transform="rotate(-90 383.1 259.4)" >Input power (W)</text>
<path d="M38.9 412.2v1.6 M53.84 412.2v1.6 M68.79 412.2v1.6 M83.73 412.2v1.6 M98.68 412.2v1.6 M113.62 412.2v1.6 M128.57 412.2v1.6 M143.51 412.2v1.6 M158.46 412.2v1.6 M173.4 412.2v1.6 M32.8 356.5h1.5 M32.8 375h1.5 M32.8 393.6h1.5" stroke="#a6a6a6" stroke-width="0.6" fill="none"/>
<rect x="32.8" y="337.9" width="149.2" height="74.3" fill="none" stroke="#a6a6a6" stroke-width="1"/>
<path d="M33.3 411.9H181.5" stroke="#d23a46" stroke-width="1.0" opacity="0.9" fill="none"/>
<path d="M43.5 388V344.8H77.5V402.8" stroke="#8a9fdc" stroke-width="1.1" fill="none"/>
<path d="M41.4 411.9L43.3 399.49L45.2 411.9Z M47.8 411.9L49.7 379.86L51.6 411.9Z M52.9 411.9L54.8 406.44L56.7 411.9Z M54 411.9L55.9 388.04L57.8 411.9Z M59.4 411.9L61.3 405.92L63.2 411.9Z M61.1 411.9L63 403L64.9 411.9Z M64 411.9L65.9 404.69L67.8 411.9Z M67.1 411.9L69 409.04L70.9 411.9Z M74.9 411.9L76.8 409.37L78.7 411.9Z M88.1 411.9L90 410.66L91.9 411.9Z M122.8 411.9L124.7 410.54L126.6 411.9Z M146.9 411.9L148.8 410.34L150.7 411.9Z M158.4 411.9L160.3 410.21L162.2 411.9Z M179.6 411.9L181.5 410.54L183.4 411.9Z" fill="#e8606c" opacity="0.4"/>
<path d="M43.3 411.9V392.6 M49.7 411.9V362.4 M54.8 411.9V403.3 M55.9 411.9V375 M61.3 411.9V402.5 M63 411.9V398 M65.9 411.9V400.6 M69 411.9V407.3 M76.8 411.9V407.8 M90 411.9V409.8 M124.7 411.9V409.6 M148.8 411.9V409.3 M160.3 411.9V409.1 M181.5 411.9V409.6" stroke="#d24a55" stroke-width="1.45" fill="none"/>
<text x="86.3" y="401.2" font-size="7.2" text-anchor="start" fill="#262626" stroke="#262626" stroke-width="0.35" textLength="9.2" lengthAdjust="spacingAndGlyphs" >He</text>
<text x="96.3" y="403" font-size="7.2" text-anchor="start" fill="#262626" stroke="#262626" stroke-width="0.35" textLength="9.2" lengthAdjust="spacingAndGlyphs" >He</text>
<text x="121.5" y="403.7" font-size="7.2" text-anchor="start" fill="#262626" stroke="#262626" stroke-width="0.35" textLength="9.2" lengthAdjust="spacingAndGlyphs" >He</text>
<text x="143.9" y="389.6" font-size="7.2" text-anchor="start" fill="#262626" stroke="#262626" stroke-width="0.35" textLength="9.2" lengthAdjust="spacingAndGlyphs" >He</text>
<text x="155.9" y="401" font-size="7.2" text-anchor="start" fill="#262626" stroke="#262626" stroke-width="0.35" textLength="9.2" lengthAdjust="spacingAndGlyphs" >He</text>
<path d="M149.1 394.9V406.3" stroke="#8a9fdc" stroke-width="1" fill="none"/>
<text x="172.9" y="380.9" font-size="7.4" text-anchor="start" fill="#262626" stroke="#262626" stroke-width="0.35" textLength="4.6" lengthAdjust="spacingAndGlyphs" >O</text>
<path d="M178.9 383.8L181.7 389.3V410.9" stroke="#8a9fdc" stroke-width="1" fill="none"/>
<text x="38.9" y="420" font-size="6.3" text-anchor="middle" fill="#262626" stroke="#262626" stroke-width="0.05" textLength="9.6" lengthAdjust="spacingAndGlyphs" >300</text>
<text x="53.84" y="420" font-size="6.3" text-anchor="middle" fill="#262626" stroke="#262626" stroke-width="0.05" textLength="9.6" lengthAdjust="spacingAndGlyphs" >350</text>
<text x="68.79" y="420" font-size="6.3" text-anchor="middle" fill="#262626" stroke="#262626" stroke-width="0.05" textLength="9.6" lengthAdjust="spacingAndGlyphs" >400</text>
<text x="83.73" y="420" font-size="6.3" text-anchor="middle" fill="#262626" stroke="#262626" stroke-width="0.05" textLength="9.6" lengthAdjust="spacingAndGlyphs" >450</text>
<text x="98.68" y="420" font-size="6.3" text-anchor="middle" fill="#262626" stroke="#262626" stroke-width="0.05" textLength="9.6" lengthAdjust="spacingAndGlyphs" >500</text>
<text x="113.62" y="420" font-size="6.3" text-anchor="middle" fill="#262626" stroke="#262626" stroke-width="0.05" textLength="9.6" lengthAdjust="spacingAndGlyphs" >550</text>
<text x="128.57" y="420" font-size="6.3" text-anchor="middle" fill="#262626" stroke="#262626" stroke-width="0.05" textLength="9.6" lengthAdjust="spacingAndGlyphs" >600</text>
<text x="143.51" y="420" font-size="6.3" text-anchor="middle" fill="#262626" stroke="#262626" stroke-width="0.05" textLength="9.6" lengthAdjust="spacingAndGlyphs" >650</text>
<text x="158.46" y="420" font-size="6.3" text-anchor="middle" fill="#262626" stroke="#262626" stroke-width="0.05" textLength="9.6" lengthAdjust="spacingAndGlyphs" >700</text>
<text x="173.4" y="420" font-size="6.3" text-anchor="middle" fill="#262626" stroke="#262626" stroke-width="0.05" textLength="9.6" lengthAdjust="spacingAndGlyphs" >750</text>
<text x="79.6" y="430.2" font-size="7.4" text-anchor="start" fill="#262626" stroke="#262626" stroke-width="0.12" textLength="55.8" lengthAdjust="spacingAndGlyphs" >Wavelength (nm)</text>
<text x="26.1" y="374.8" font-size="7.0" text-anchor="middle" fill="#262626" stroke="#262626" stroke-width="0.12" textLength="64.2" lengthAdjust="spacingAndGlyphs" transform="rotate(-90 26.1 374.8)" >Intensity (arb. units)</text>
<text x="42.9" y="337" font-size="7.7" fill="#262626" stroke="#262626" stroke-width="0.2" textLength="4.9" lengthAdjust="spacingAndGlyphs">N</text>
<text x="47.9" y="338.7" font-size="5.0" fill="#262626" stroke="#262626" stroke-width="0.2" textLength="2.3" lengthAdjust="spacingAndGlyphs">2</text>
<circle cx="50.5" cy="330.7" r="1.1" fill="#262626"/>
<text x="69.17" y="337" font-size="7.7" fill="#262626" stroke="#262626" stroke-width="0.2" textLength="4.9" lengthAdjust="spacingAndGlyphs">N</text>
<text x="74.17" y="338.7" font-size="5.0" fill="#262626" stroke="#262626" stroke-width="0.2" textLength="2.3" lengthAdjust="spacingAndGlyphs">2</text>
<circle cx="76.77" cy="330.7" r="1.1" fill="#262626"/>
<text x="54.83" y="337" font-size="7.5" fill="#262626" stroke="#262626" stroke-width="0.2" textLength="12.4" lengthAdjust="spacingAndGlyphs">and</text>
<path d="M214.6 410v1.6 M229.57 410v1.6 M244.53 410v1.6 M259.5 410v1.6 M274.47 410v1.6 M289.43 410v1.6 M304.4 410v1.6 M319.37 410v1.6 M334.33 410v1.6 M349.3 410v1.6 M208.4 343h1.5 M208.4 352h1.5 M208.4 361.4h1.5 M208.4 371h1.5 M208.4 380.7h1.5 M208.4 390.3h1.5 M208.4 399.9h1.5" stroke="#a6a6a6" stroke-width="0.6" fill="none"/>
<rect x="208.4" y="336.1" width="149" height="73.9" fill="none" stroke="#a6a6a6" stroke-width="1"/>
<path d="M208.9 409.7H356.9" stroke="#d23a46" stroke-width="1.0" opacity="0.9" fill="none"/>
<path d="M219 386.6V342.8H253.2V383.3" stroke="#8a9fdc" stroke-width="1.1" fill="none"/>
<path d="M215.2 409.7L217.1 406L219 409.7Z M217 409.7L218.9 395.99L220.8 409.7Z M223.4 409.7L225.3 372.78L227.2 409.7Z M228.7 409.7L230.6 402.42L232.5 409.7Z M229.6 409.7L231.5 381.49L233.4 409.7Z M234.7 409.7L236.6 403.26L238.5 409.7Z M236 409.7L237.9 399.95L239.8 409.7Z M239.7 409.7L241.6 377.98L243.5 409.7Z M242.1 409.7L244 406.97L245.9 409.7Z M243.8 409.7L245.7 406.97L247.6 409.7Z M250.6 409.7L252.5 400.73L254.4 409.7Z M263.3 409.7L265.2 408.2L267.1 409.7Z M272.7 409.7L274.6 408.79L276.5 409.7Z M298.3 409.7L300.2 408.59L302.1 409.7Z M322.4 409.7L324.3 408.27L326.2 409.7Z M334.1 409.7L336 406.9L337.9 409.7Z M355.1 409.7L357 408.47L358.9 409.7Z" fill="#e8606c" opacity="0.4"/>
<path d="M217.1 409.7V403.8 M218.9 409.7V388.4 M225.3 409.7V352.7 M230.6 409.7V398.3 M231.5 409.7V366.1 M236.6 409.7V399.6 M237.9 409.7V394.5 M241.6 409.7V360.7 M244 409.7V405.3 M245.7 409.7V405.3 M252.5 409.7V395.7 M265.2 409.7V407.2 M274.6 409.7V408.1 M300.2 409.7V407.8 M324.3 409.7V407.3 M336 409.7V405.2 M357 409.7V407.6" stroke="#d24a55" stroke-width="1.45" fill="none"/>
<text x="261.3" y="399.2" font-size="7.2" text-anchor="start" fill="#262626" stroke="#262626" stroke-width="0.35" textLength="9.2" lengthAdjust="spacingAndGlyphs" >He</text>
<text x="272" y="401.2" font-size="7.2" text-anchor="start" fill="#262626" stroke="#262626" stroke-width="0.35" textLength="9.2" lengthAdjust="spacingAndGlyphs" >He</text>
<text x="297" y="402.2" font-size="7.2" text-anchor="start" fill="#262626" stroke="#262626" stroke-width="0.35" textLength="9.2" lengthAdjust="spacingAndGlyphs" >He</text>
<text x="319.8" y="387.9" font-size="7.2" text-anchor="start" fill="#262626" stroke="#262626" stroke-width="0.35" textLength="9.2" lengthAdjust="spacingAndGlyphs" >He</text>
<text x="331.1" y="398.7" font-size="7.2" text-anchor="start" fill="#262626" stroke="#262626" stroke-width="0.35" textLength="9.2" lengthAdjust="spacingAndGlyphs" >He</text>
<path d="M324.3 393.3V407.9" stroke="#8a9fdc" stroke-width="1" fill="none"/>
<text x="348.5" y="376.6" font-size="7.4" text-anchor="start" fill="#262626" stroke="#262626" stroke-width="0.35" textLength="4.6" lengthAdjust="spacingAndGlyphs" >O</text>
<path d="M354.2 379.5L357 385V408.7" stroke="#8a9fdc" stroke-width="1" fill="none"/>
<text x="207" y="374.2" font-size="7.4" text-anchor="start" fill="#262626" stroke="#262626" stroke-width="0.35" textLength="10.2" lengthAdjust="spacingAndGlyphs" >OH</text>
<path d="M216.1 379.5V393.9" stroke="#d448d8" stroke-width="1" fill="none"/>
<path d="M214.7 393L216.1 395.9L217.5 393Z" fill="#d448d8"/>
<text x="214.6" y="418.2" font-size="6.3" text-anchor="middle" fill="#262626" stroke="#262626" stroke-width="0.05" textLength="9.6" lengthAdjust="spacingAndGlyphs" >300</text>
<text x="229.57" y="418.2" font-size="6.3" text-anchor="middle" fill="#262626" stroke="#262626" stroke-width="0.05" textLength="9.6" lengthAdjust="spacingAndGlyphs" >350</text>
<text x="244.53" y="418.2" font-size="6.3" text-anchor="middle" fill="#262626" stroke="#262626" stroke-width="0.05" textLength="9.6" lengthAdjust="spacingAndGlyphs" >400</text>
<text x="259.5" y="418.2" font-size="6.3" text-anchor="middle" fill="#262626" stroke="#262626" stroke-width="0.05" textLength="9.6" lengthAdjust="spacingAndGlyphs" >450</text>
<text x="274.47" y="418.2" font-size="6.3" text-anchor="middle" fill="#262626" stroke="#262626" stroke-width="0.05" textLength="9.6" lengthAdjust="spacingAndGlyphs" >500</text>
<text x="289.43" y="418.2" font-size="6.3" text-anchor="middle" fill="#262626" stroke="#262626" stroke-width="0.05" textLength="9.6" lengthAdjust="spacingAndGlyphs" >550</text>
<text x="304.4" y="418.2" font-size="6.3" text-anchor="middle" fill="#262626" stroke="#262626" stroke-width="0.05" textLength="9.6" lengthAdjust="spacingAndGlyphs" >600</text>
<text x="319.37" y="418.2" font-size="6.3" text-anchor="middle" fill="#262626" stroke="#262626" stroke-width="0.05" textLength="9.6" lengthAdjust="spacingAndGlyphs" >650</text>
<text x="334.33" y="418.2" font-size="6.3" text-anchor="middle" fill="#262626" stroke="#262626" stroke-width="0.05" textLength="9.6" lengthAdjust="spacingAndGlyphs" >700</text>
<text x="349.3" y="418.2" font-size="6.3" text-anchor="middle" fill="#262626" stroke="#262626" stroke-width="0.05" textLength="9.6" lengthAdjust="spacingAndGlyphs" >750</text>
<text x="256" y="428.8" font-size="7.4" text-anchor="start" fill="#262626" stroke="#262626" stroke-width="0.12" textLength="54.8" lengthAdjust="spacingAndGlyphs" >Wavelength (nm)</text>
<text x="200.2" y="373.2" font-size="7.0" text-anchor="middle" fill="#262626" stroke="#262626" stroke-width="0.12" textLength="64.2" lengthAdjust="spacingAndGlyphs" transform="rotate(-90 200.2 373.2)" >Intensity (arb. units)</text>
<text x="218.5" y="335.6" font-size="7.7" fill="#262626" stroke="#262626" stroke-width="0.2" textLength="4.9" lengthAdjust="spacingAndGlyphs">N</text>
<text x="223.5" y="337.3" font-size="5.0" fill="#262626" stroke="#262626" stroke-width="0.2" textLength="2.3" lengthAdjust="spacingAndGlyphs">2</text>
<circle cx="226.1" cy="329.3" r="1.1" fill="#262626"/>
<text x="244.63" y="335.6" font-size="7.7" fill="#262626" stroke="#262626" stroke-width="0.2" textLength="4.9" lengthAdjust="spacingAndGlyphs">N</text>
<text x="249.63" y="337.3" font-size="5.0" fill="#262626" stroke="#262626" stroke-width="0.2" textLength="2.3" lengthAdjust="spacingAndGlyphs">2</text>
<circle cx="252.23" cy="329.3" r="1.1" fill="#262626"/>
<text x="230.37" y="335.6" font-size="7.5" fill="#262626" stroke="#262626" stroke-width="0.2" textLength="12.4" lengthAdjust="spacingAndGlyphs">and</text>
<path d="M385.2 409.5v1.6 M400.18 409.5v1.6 M415.16 409.5v1.6 M430.13 409.5v1.6 M445.11 409.5v1.6 M460.09 409.5v1.6 M475.07 409.5v1.6 M490.04 409.5v1.6 M505.02 409.5v1.6 M520 409.5v1.6 M379.2 353.6h1.5 M379.2 372.5h1.5 M379.2 391h1.5" stroke="#a6a6a6" stroke-width="0.6" fill="none"/>
<rect x="379.2" y="335.7" width="148.6" height="73.8" fill="none" stroke="#a6a6a6" stroke-width="1"/>
<path d="M379.7 409.1H527.3" stroke="#d23a46" stroke-width="1.0" opacity="0.9" fill="none"/>
<path d="M389.6 379.5V341.7H422.5V404.3" stroke="#8a9fdc" stroke-width="1.1" fill="none"/>
<path d="M385.5 409.1L387.4 396.56L389.3 409.1Z M387.8 409.1L389.7 393.31L391.6 409.1Z M394.1 409.1L396 368.48L397.9 409.1Z M399 409.1L400.9 401.75L402.8 409.1Z M400.3 409.1L402.2 379.79L404.1 409.1Z M405.5 409.1L407.4 402.14L409.3 409.1Z M406.9 409.1L408.8 397.92L410.7 409.1Z M410.3 409.1L412.2 400.59L414.1 409.1Z M412.9 409.1L414.8 406.11L416.7 409.1Z M414.6 409.1L416.5 406.11L418.4 409.1Z M421.1 409.1L423 406.18L424.9 409.1Z M469.4 409.1L471.3 407.74L473.2 409.1Z M493.6 409.1L495.5 408.25L497.4 409.1Z M505 409.1L506.9 406.96L508.8 409.1Z M525.5 409.1L527.4 407.74L529.3 409.1Z" fill="#e8606c" opacity="0.4"/>
<path d="M387.4 409.1V389.6 M389.7 409.1V384.6 M396 409.1V346.4 M400.9 409.1V397.6 M402.2 409.1V363.8 M407.4 409.1V398.2 M408.8 409.1V391.7 M412.2 409.1V395.8 M414.8 409.1V404.3 M416.5 409.1V404.3 M423 409.1V404.4 M471.3 409.1V406.8 M495.5 409.1V407.6 M506.9 409.1V405.6 M527.4 409.1V406.8" stroke="#d24a55" stroke-width="1.45" fill="none"/>
<text x="432" y="397.4" font-size="7.2" text-anchor="start" fill="#262626" stroke="#262626" stroke-width="0.35" textLength="9.2" lengthAdjust="spacingAndGlyphs" >He</text>
<text x="442.6" y="399.5" font-size="7.2" text-anchor="start" fill="#262626" stroke="#262626" stroke-width="0.35" textLength="9.2" lengthAdjust="spacingAndGlyphs" >He</text>
<text x="467" y="401" font-size="7.2" text-anchor="start" fill="#262626" stroke="#262626" stroke-width="0.35" textLength="9.2" lengthAdjust="spacingAndGlyphs" >He</text>
<text x="489.8" y="386.9" font-size="7.2" text-anchor="start" fill="#262626" stroke="#262626" stroke-width="0.35" textLength="9.2" lengthAdjust="spacingAndGlyphs" >He</text>
<text x="501.6" y="397.4" font-size="7.2" text-anchor="start" fill="#262626" stroke="#262626" stroke-width="0.35" textLength="9.2" lengthAdjust="spacingAndGlyphs" >He</text>
<path d="M495.4 392.3V402.9" stroke="#8a9fdc" stroke-width="1" fill="none"/>
<text x="522.4" y="374.1" font-size="7.4" text-anchor="start" fill="#262626" stroke="#262626" stroke-width="0.35" textLength="4.6" lengthAdjust="spacingAndGlyphs" >O</text>
<path d="M524.7 377L527.5 382.5V408.1" stroke="#8a9fdc" stroke-width="1" fill="none"/>
<text x="378.3" y="363.2" font-size="7.4" text-anchor="start" fill="#262626" stroke="#262626" stroke-width="0.35" textLength="10.2" lengthAdjust="spacingAndGlyphs" >OH</text>
<path d="M386.8 366.3V383" stroke="#d448d8" stroke-width="1" fill="none"/>
<circle cx="386.8" cy="384" r="1.3" fill="#d448d8"/>
<text x="385.2" y="417.5" font-size="6.3" text-anchor="middle" fill="#262626" stroke="#262626" stroke-width="0.05" textLength="9.6" lengthAdjust="spacingAndGlyphs" >300</text>
<text x="400.18" y="417.5" font-size="6.3" text-anchor="middle" fill="#262626" stroke="#262626" stroke-width="0.05" textLength="9.6" lengthAdjust="spacingAndGlyphs" >350</text>
<text x="415.16" y="417.5" font-size="6.3" text-anchor="middle" fill="#262626" stroke="#262626" stroke-width="0.05" textLength="9.6" lengthAdjust="spacingAndGlyphs" >400</text>
<text x="430.13" y="417.5" font-size="6.3" text-anchor="middle" fill="#262626" stroke="#262626" stroke-width="0.05" textLength="9.6" lengthAdjust="spacingAndGlyphs" >450</text>
<text x="445.11" y="417.5" font-size="6.3" text-anchor="middle" fill="#262626" stroke="#262626" stroke-width="0.05" textLength="9.6" lengthAdjust="spacingAndGlyphs" >500</text>
<text x="460.09" y="417.5" font-size="6.3" text-anchor="middle" fill="#262626" stroke="#262626" stroke-width="0.05" textLength="9.6" lengthAdjust="spacingAndGlyphs" >550</text>
<text x="475.07" y="417.5" font-size="6.3" text-anchor="middle" fill="#262626" stroke="#262626" stroke-width="0.05" textLength="9.6" lengthAdjust="spacingAndGlyphs" >600</text>
<text x="490.04" y="417.5" font-size="6.3" text-anchor="middle" fill="#262626" stroke="#262626" stroke-width="0.05" textLength="9.6" lengthAdjust="spacingAndGlyphs" >650</text>
<text x="505.02" y="417.5" font-size="6.3" text-anchor="middle" fill="#262626" stroke="#262626" stroke-width="0.05" textLength="9.6" lengthAdjust="spacingAndGlyphs" >700</text>
<text x="520" y="417.5" font-size="6.3" text-anchor="middle" fill="#262626" stroke="#262626" stroke-width="0.05" textLength="9.6" lengthAdjust="spacingAndGlyphs" >750</text>
<text x="426.3" y="427.5" font-size="7.4" text-anchor="start" fill="#262626" stroke="#262626" stroke-width="0.12" textLength="56" lengthAdjust="spacingAndGlyphs" >Wavelength (nm)</text>
<text x="370.6" y="372.4" font-size="7.0" text-anchor="middle" fill="#262626" stroke="#262626" stroke-width="0.12" textLength="64.2" lengthAdjust="spacingAndGlyphs" transform="rotate(-90 370.6 372.4)" >Intensity (arb. units)</text>
<text x="388.6" y="335.5" font-size="7.7" fill="#262626" stroke="#262626" stroke-width="0.2" textLength="4.9" lengthAdjust="spacingAndGlyphs">N</text>
<text x="393.6" y="337.2" font-size="5.0" fill="#262626" stroke="#262626" stroke-width="0.2" textLength="2.3" lengthAdjust="spacingAndGlyphs">2</text>
<circle cx="396.2" cy="329.2" r="1.1" fill="#262626"/>
<text x="414.95" y="335.5" font-size="7.7" fill="#262626" stroke="#262626" stroke-width="0.2" textLength="4.9" lengthAdjust="spacingAndGlyphs">N</text>
<text x="419.95" y="337.2" font-size="5.0" fill="#262626" stroke="#262626" stroke-width="0.2" textLength="2.3" lengthAdjust="spacingAndGlyphs">2</text>
<circle cx="422.55" cy="329.2" r="1.1" fill="#262626"/>
<text x="400.57" y="335.5" font-size="7.5" fill="#262626" stroke="#262626" stroke-width="0.2" textLength="12.4" lengthAdjust="spacingAndGlyphs">and</text>
</svg>
</body></html>
